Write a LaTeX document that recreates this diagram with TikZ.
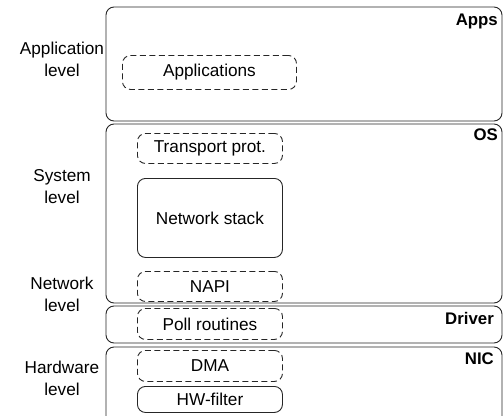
\documentclass[tikz,border=0pt]{standalone}
\usepackage{fontspec}
\setmainfont{Liberation Sans}
\begin{document}
\begin{tikzpicture}[x=1pt,y=-1pt,
  every node/.style={font=\fontsize{17.2}{22}\selectfont, text=black},
  layer/.style={draw=black!85, line width=0.9pt, rounded corners=8pt},
  inbox/.style={draw=black!85, line width=0.9pt, rounded corners=8pt, inner sep=0pt, anchor=north west},
  dbox/.style={inbox, dash pattern=on 6pt off 3.5pt},
  tag/.style={font=\fontsize{16.8}{20}\selectfont\bfseries, anchor=east, inner sep=0pt},
  lvl/.style={align=center, inner sep=0pt}]
\useasboundingbox (0,0) rectangle (503,415);
\clip (0,0) rectangle (503,415);
% layers
\draw[layer] (106,7) rectangle (502,121);
\draw[layer] (106,124) rectangle (502,303);
\draw[layer] (106,306) rectangle (502,343);
\draw[layer] (106,347) rectangle (502,430);
% layer tags
\node[tag] (apps) at (498,21) {Apps};
\node[tag] (os) at (498,135) {OS};
\node[tag] (drv) at (494,318) {Driver};
\node[tag] (nic) at (494,359) {NIC};
% level labels
\node[lvl] (al) at (62,59) {Application\\level};
\node[lvl] (sl) at (62,187) {System\\level};
\node[lvl] (nl) at (62,294) {Network\\level};
\node[lvl] (hl) at (62,378) {Hardware\\level};
% inner boxes
\node[dbox, minimum width=174pt, minimum height=34pt] (applications) at (122,55) {Applications};
\node[dbox, minimum width=145pt, minimum height=30pt] (transport) at (137,133) {Transport prot.};
\node[inbox, minimum width=145pt, minimum height=79pt] (stack) at (137,178) {Network stack};
\node[dbox, minimum width=145pt, minimum height=30pt] (napi) at (137,271) {NAPI};
\node[dbox, minimum width=145pt, minimum height=31pt] (poll) at (137,308) {Poll routines};
\node[dbox, minimum width=145pt, minimum height=31pt] (dma) at (137,350) {DMA};
\node[inbox, minimum width=145pt, minimum height=26pt] (hw) at (137,386) {HW-filter};
\end{tikzpicture}
\end{document}
